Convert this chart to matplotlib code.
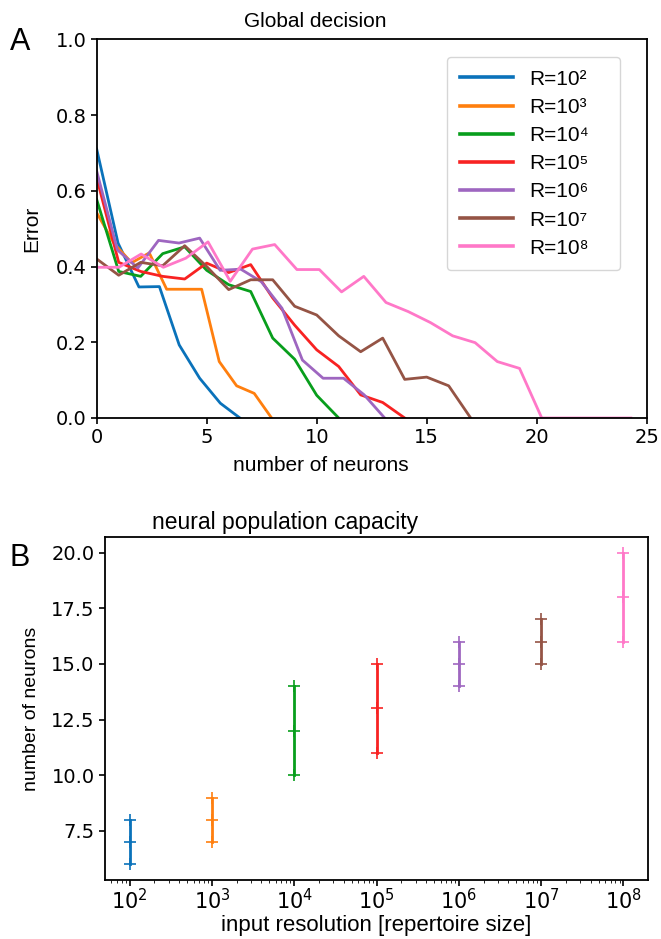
import matplotlib
matplotlib.use("Agg")
import matplotlib.pyplot as plt

# ---------------- data ----------------
series_labels = ["R=10\u00b2", "R=10\u00b3", "R=10\u2074", "R=10\u2075",
                 "R=10\u2076", "R=10\u2077", "R=10\u2078"]
colors = ["#0a72ba", "#ff7f0e", "#089e1c", "#f82222", "#9e66c0", "#955445", "#ff78c8"]

blue_x = [0, 0.97, 1.92, 2.85, 3.75, 4.68, 5.62, 6.51]
blue_y = [0.71, 0.462, 0.346, 0.347, 0.193, 0.105, 0.039, 0.0]

orange_x = [0, 0.80, 1.59, 2.39, 3.18, 3.98, 4.77, 5.57, 6.36, 7.16, 7.95]
orange_y = [0.542, 0.46, 0.41, 0.436, 0.34, 0.34, 0.34, 0.149, 0.085, 0.065, 0.0]

green_x = [0, 1, 2, 3, 4, 5, 6, 7, 8, 9, 10, 11]
green_y = [0.577, 0.387, 0.374, 0.434, 0.452, 0.39, 0.352, 0.334, 0.211, 0.155, 0.06, 0.0]

red_x = [0, 1, 2, 3, 4, 5, 6, 7, 8, 9, 10, 11, 12, 13, 14]
red_y = [0.634, 0.411, 0.387, 0.374, 0.367, 0.409, 0.384, 0.405, 0.317, 0.245,
         0.18, 0.136, 0.061, 0.041, 0.0]

purple_x = [0, 0.94, 1.87, 2.81, 3.74, 4.68, 5.61, 6.55, 7.48, 8.42, 9.35,
            10.29, 11.22, 12.16, 13.09]
purple_y = [0.652, 0.444, 0.396, 0.469, 0.462, 0.475, 0.39, 0.393, 0.36, 0.29,
            0.153, 0.105, 0.105, 0.061, 0.0]

brown_x = [0, 1, 2, 3, 4, 5, 6, 7, 8, 9, 10, 11, 12, 13, 14, 15, 16, 17]
brown_y = [0.42, 0.377, 0.411, 0.402, 0.455, 0.40, 0.339, 0.365, 0.365, 0.295,
           0.272, 0.217, 0.175, 0.211, 0.102, 0.108, 0.085, 0.0]

pink_x = [0, 1.01, 2.02, 3.03, 4.05, 5.06, 6.07, 7.08, 8.09, 9.10, 10.12, 11.13,
          12.14, 13.15, 14.16, 15.17, 16.18, 17.20, 18.21, 19.22, 20.23, 21.24,
          22.25, 23.26, 24.28]
pink_y = [0.398, 0.398, 0.433, 0.398, 0.422, 0.465, 0.361, 0.446, 0.458, 0.392,
          0.392, 0.333, 0.374, 0.305, 0.281, 0.252, 0.217, 0.199, 0.149, 0.131,
          0, 0, 0, 0, 0]

curves_x = [blue_x, orange_x, green_x, red_x, purple_x, brown_x, pink_x]
curves_y = [blue_y, orange_y, green_y, red_y, purple_y, brown_y, pink_y]

resolutions = [1e2, 1e3, 1e4, 1e5, 1e6, 1e7, 1e8]
n_min = [6, 7, 10, 11, 14, 15, 16]
n_med = [7, 8, 12, 13, 15, 16, 18]
n_max = [8, 9, 14, 15, 16, 17, 20]

xticks_a = [0, 5, 10, 15, 20, 25]
yticks_a = [0.0, 0.2, 0.4, 0.6, 0.8, 1.0]
yticks_b = [7.5, 10.0, 12.5, 15.0, 17.5, 20.0]

# ---------------- figure ----------------
W, H = 661, 939
fig = plt.figure(figsize=(W / 100, H / 100), dpi=100)
LAB = ["Liberation Sans", "DejaVu Sans"]
TICK = ["DejaVu Sans"]


def axes_px(l, t, r, b):
    return fig.add_axes([l / W, 1 - b / H, (r - l) / W, (b - t) / H])


# Panel A
axA = axes_px(96.7, 39.3, 646.7, 418)
for x, y, c, lab in zip(curves_x, curves_y, colors, series_labels):
    axA.plot(x, y, color=c, lw=2.0, label=lab)
axA.set_xlim(0, 25)
axA.set_ylim(0, 1.0)
axA.set_xticks(xticks_a)
axA.set_yticks(yticks_a)
axA.set_xticklabels([str(v) for v in xticks_a], family=TICK, fontsize=14)
axA.set_yticklabels(["%.1f" % v for v in yticks_a], family=TICK, fontsize=14)
axA.set_xlabel("number of neurons", family=LAB, fontsize=15, labelpad=6)
axA.xaxis.label.set_x(0.408)
axA.set_ylabel("Error", family=LAB, fontsize=15, labelpad=10)
axA.set_title("Global decision", family=LAB, fontsize=15, x=0.397, pad=9)
leg = axA.legend(loc="upper left", bbox_to_anchor=(0.637, 0.0, 0.3145, 0.9525),
                 mode="expand", borderaxespad=0,
                 prop={"family": LAB, "size": 15}, handlelength=2.55,
                 labelspacing=0.44, borderpad=0.6, handletextpad=0.8)
for h in leg.get_lines():
    h.set_linewidth(2.6)

# Panel B
axB = axes_px(105, 537, 648, 880)
for r, lo, md, hi, c in zip(resolutions, n_min, n_med, n_max, colors):
    axB.plot([r, r, r], [lo, md, hi], "-+", color=c, lw=2.0, ms=8, mew=1.2)
axB.set_xscale("log")
axB.set_xlim(10 ** 1.7, 10 ** 8.3)
axB.set_xticks(resolutions)
axB.set_ylim(5.3, 20.7)
axB.set_yticks(yticks_b)
axB.set_yticklabels(["%.1f" % v for v in yticks_b], family=TICK, fontsize=14)
axB.tick_params(axis="x", labelsize=15, pad=2)
axB.set_xlabel("input resolution [repertoire size]", family=LAB, fontsize=16, labelpad=1)
axB.set_ylabel("number of neurons", family=LAB, fontsize=14, labelpad=8)
axB.set_title("neural population capacity", family=LAB, fontsize=16.5, x=0.331, pad=6)

for ax in (axA, axB):
    for s in ax.spines.values():
        s.set_linewidth(1.3)
    ax.tick_params(width=1.2, length=4)

fig.text(20 / W, 1 - 42 / H, "A", family=LAB, fontsize=22, ha="center", va="center")
fig.text(20 / W, 1 - 558 / H, "B", family=LAB, fontsize=22, ha="center", va="center")

fig.savefig("out.png", dpi=100)
